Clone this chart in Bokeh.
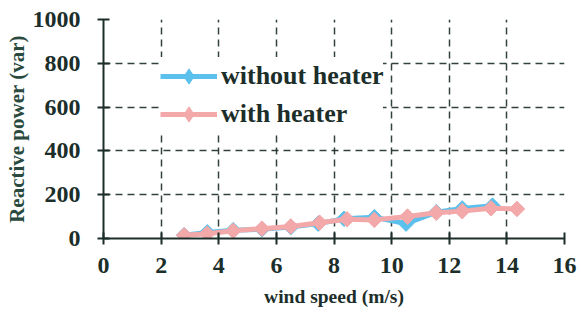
from bokeh.plotting import figure
from bokeh.models import Range1d, Legend, LegendItem, FixedTicker
from bokeh.embed import file_html
from bokeh.resources import INLINE
import math

x_without = [2.8, 3.6, 4.5, 5.5, 6.5, 7.45, 8.35, 9.4, 10.5, 11.55, 12.45, 13.5]
y_without = [15, 28, 38, 42, 52, 68, 90, 97, 68, 120, 137, 150]
x_with = [2.8, 3.6, 4.5, 5.5, 6.5, 7.5, 8.45, 9.4, 10.55, 11.55, 12.45, 13.45, 14.35]
y_with = [15, 22, 35, 45, 55, 72, 88, 85, 100, 118, 125, 138, 135]

x_ticks = [0, 2, 4, 6, 8, 10, 12, 14, 16]
y_ticks = [0, 200, 400, 600, 800, 1000]

BLUE = "#5cc0ec"
PINK = "#f3a9aa"
TXT = "#1c2e2a"
FONT = "Liberation Serif"

p = figure(width=581, height=322, output_backend="svg", toolbar_location=None,
           x_range=Range1d(0, 16), y_range=Range1d(0, 1000),
           min_border_left=103, min_border_right=17, min_border_top=19, min_border_bottom=84)
p.outline_line_color = None
p.background_fill_color = "white"

for ax in (p.xaxis[0], p.yaxis[0]):
    ax.axis_line_color = TXT
    ax.axis_line_width = 2
    ax.major_tick_line_color = TXT
    ax.major_tick_line_width = 2
    ax.major_tick_in = 6
    ax.major_tick_out = 6
    ax.minor_tick_line_color = None
    ax.major_label_text_font = FONT
    ax.major_label_text_font_style = "bold"
    ax.major_label_text_font_size = "24px"
    ax.major_label_text_color = TXT
    ax.axis_label_text_font = FONT
    ax.axis_label_text_font_style = "bold"

p.xaxis[0].ticker = FixedTicker(ticks=x_ticks)
p.yaxis[0].ticker = FixedTicker(ticks=y_ticks)
p.xaxis[0].major_label_standoff = 13
p.yaxis[0].major_label_standoff = 17
p.xaxis[0].axis_label = "wind speed (m/s)"
p.yaxis[0].axis_label = "Reactive power (var)"
p.xaxis[0].axis_label_text_font_size = "19.5px"
p.yaxis[0].axis_label_text_font_size = "21px"
p.xaxis[0].axis_label_text_color = TXT
p.yaxis[0].axis_label_text_color = "#2a4a40"
p.xaxis[0].axis_label_standoff = 10
p.yaxis[0].axis_label_standoff = 1

for g in (p.xgrid[0], p.ygrid[0]):
    g.grid_line_color = TXT
    g.grid_line_width = 1.5
    g.grid_line_dash = "7 5"
    g.grid_line_alpha = 0.9

l1 = p.line(x_without, y_without, line_color=BLUE, line_width=5)
s1 = p.scatter(x_without, y_without, marker="square", angle=math.pi / 4, size=11,
               fill_color=BLUE, line_color=BLUE)
l2 = p.line(x_with, y_with, line_color=PINK, line_width=5)
s2 = p.scatter(x_with, y_with, marker="square", angle=math.pi / 4, size=11,
               fill_color=PINK, line_color=PINK)

# legend-only diamond glyphs (one point placed outside the visible range)
d1 = p.scatter(x=[-100], y=[-100], marker="diamond", size=16, fill_color=BLUE, line_color=BLUE)
d2 = p.scatter(x=[-100], y=[-100], marker="diamond", size=16, fill_color=PINK, line_color=PINK)

legend = Legend(items=[LegendItem(label="without heater", renderers=[l1, d1]),
                       LegendItem(label="with heater", renderers=[l2, d2])],
                location=(57, 105), padding=2, margin=0, spacing=-3,
                glyph_width=57, glyph_height=38, label_height=26, label_standoff=4,
                label_text_font=FONT, label_text_font_style="bold",
                label_text_font_size="26px", label_text_color=TXT,
                border_line_color=None, background_fill_color="white",
                background_fill_alpha=1)
p.add_layout(legend, "center")

open("out.html", "w").write(file_html(p, INLINE))
